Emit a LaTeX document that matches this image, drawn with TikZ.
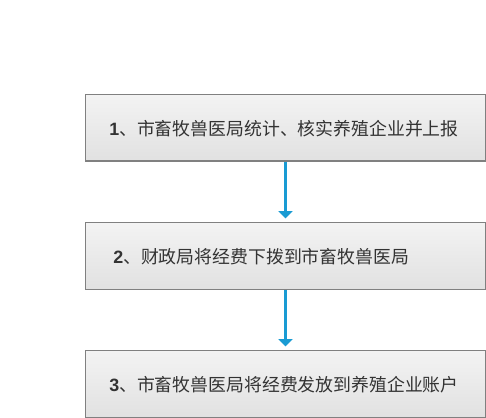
\documentclass[tikz,border=0pt]{standalone}
\usepackage{fontspec}
\setmainfont{Noto Sans CJK SC}
\newfontfamily\digitfont{Liberation Sans}
\usetikzlibrary{arrows.meta}
\definecolor{boxline}{HTML}{808080}
\definecolor{boxtop}{HTML}{F3F3F3}
\definecolor{boxbot}{HTML}{E1E1E1}
\definecolor{txt}{HTML}{333333}
\definecolor{arr}{HTML}{1A9BD3}
\begin{document}
\begin{tikzpicture}[x=0.75pt,y=-0.75pt,
  stepbox/.style={draw=boxline,line width=1.1pt,top color=boxtop,bottom color=boxbot,
    minimum width=400*0.75pt,minimum height=66.6*0.75pt,inner sep=0pt},
  steptext/.style={anchor=west,inner sep=0pt,text=txt,font=\fontsize{13.4pt}{16pt}\selectfont},
  flow/.style={draw=arr,line width=1.6pt,-{Triangle[width=10.5pt,length=5.5pt]},shorten >=2.6pt}]
\useasboundingbox (0,0) rectangle (486,418);
\node[stepbox] (b1) at (285.5,127.7) {};
\node[stepbox] (b2) at (285.5,256) {};
\node[stepbox] (b3) at (285.5,384) {};
\node[steptext] (t1) at (109,128.5) {{\digitfont\bfseries 1}、市畜牧兽医局统计、核实养殖企业并上报};
\node[steptext] (t2) at (113,256.5) {{\digitfont\bfseries 2}、财政局将经费下拨到市畜牧兽医局};
\node[steptext] (t3) at (109,384.5) {{\digitfont\bfseries 3}、市畜牧兽医局将经费发放到养殖企业账户};
\draw[flow] (b1.south) -- (b2.north);
\draw[flow] (b2.south) -- (b3.north);
\end{tikzpicture}
\end{document}
